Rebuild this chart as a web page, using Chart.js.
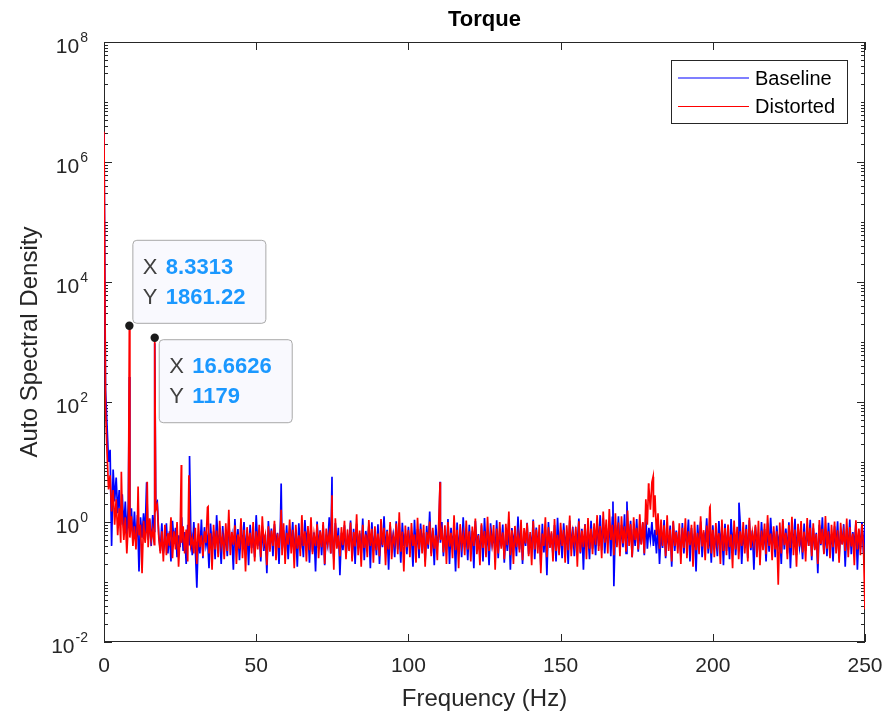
<!DOCTYPE html>
<html>
<head>
<meta charset="utf-8">
<title>Torque</title>
<script src="https://cdn.jsdelivr.net/npm/chart.js@4.4.1/dist/chart.umd.min.js"></script>
<style>
  html, body { margin: 0; padding: 0; background: #fff; }
  #wrap { width: 883px; height: 715px; }
</style>
</head>
<body>
<div id="wrap"><canvas id="asdChart" width="883" height="715"></canvas></div>
<script>
const freqStep = 0.5; // Hz between spectrum bins

// Baseline ASD, one row = 10 Hz (20 bins)
const baselineAsd = [
  3000000, 160, 40, 10, 16, 0.4, 7.5, 2.2, 5.5, 1.4, 3.4, 0.9, 2.9, 0.8, 2.2, 0.6, 2.0, 0.7, 1.7, 0.5,
  1.5, 0.45, 1.3, 0.15, 1.2, 0.55, 1.4, 0.6, 4.6, 0.5, 1.1, 0.4, 1.3, 0.7, 2.0, 2.2, 0.6, 0.33, 0.95, 0.3,
  0.5, 0.95, 0.3, 0.7, 0.22, 1.05, 0.45, 0.8, 0.26, 0.6, 0.38, 1.2, 0.33, 0.68, 0.2, 0.9, 0.42, 0.75, 0.28, 1.0,
  0.36, 0.08, 0.62, 0.3, 1.1, 0.25, 0.82, 0.4, 0.55, 0.17, 0.94, 0.35, 0.7, 0.24, 1.3, 0.43, 0.6, 0.2, 0.86, 0.32,
  0.66, 0.27, 0.98, 0.4, 0.58, 0.16, 1.12, 0.34, 0.76, 0.23, 0.64, 0.45, 1.0, 0.29, 0.72, 0.19, 0.9, 0.37, 0.6, 0.26,
  1.3, 0.4, 0.7, 0.22, 0.85, 0.33, 0.62, 0.14, 1.04, 0.38, 0.78, 0.27, 0.92, 0.43, 0.66, 0.2, 1.15, 0.35, 0.73, 0.3,
  0.88, 0.24, 0.64, 0.41, 1.0, 0.29, 0.7, 0.18, 0.95, 0.36, 0.6, 0.26, 1.08, 0.44, 0.76, 0.21, 0.84, 0.32, 0.67, 0.15,
  1.02, 0.37, 0.73, 0.28, 0.9, 0.19, 0.62, 0.42, 1.2, 0.3, 0.69, 0.24, 0.96, 0.39, 0.8, 0.13, 0.66, 0.34, 0.88, 0.27,
  0.6, 0.42, 1.06, 0.25, 0.77, 0.2, 0.93, 0.36, 0.65, 0.3, 1.14, 0.23, 0.71, 0.4, 0.87, 0.17, 0.99, 0.33, 0.63, 0.28,
  0.92, 0.2, 0.68, 0.38, 1.25, 0.3, 0.74, 0.16, 0.89, 0.43, 0.61, 0.26, 1.03, 0.35, 0.7, 0.21, 0.97, 0.4, 0.64, 0.29,
  0.83, 0.37, 0.6, 0.18, 1.09, 0.32, 0.76, 0.25, 0.94, 0.41, 0.66, 0.22, 0.86, 0.36, 1.5, 0.3, 0.72, 0.19, 0.9, 0.4,
  0.62, 0.45, 1.0, 0.27, 0.7, 0.35, 1.12, 0.2, 0.8, 0.43, 0.65, 0.15, 0.98, 0.31, 0.74, 0.26, 1.2, 0.38, 0.67, 0.23,
  0.9, 0.34, 0.71, 0.17, 1.04, 0.4, 0.63, 0.28, 0.88, 0.22, 1.16, 0.36, 0.69, 0.19, 0.95, 0.42, 0.6, 0.3, 1.07, 0.25,
  0.73, 0.39, 0.91, 0.21, 0.64, 0.33, 1.01, 0.16, 0.79, 0.44, 0.68, 0.27, 1.23, 0.35, 0.86, 0.2, 0.7, 0.4, 0.97, 0.29,
  0.62, 0.36, 1.1, 0.24, 0.81, 0.42, 0.67, 0.19, 0.93, 0.31, 0.74, 0.13, 1.0, 0.38, 0.65, 0.28, 0.89, 0.22, 1.18, 0.34,
  0.7, 0.25, 0.95, 0.41, 0.6, 0.2, 1.06, 0.35, 0.83, 0.27, 0.66, 0.44, 1.14, 0.3, 0.77, 0.16, 0.92, 0.39, 0.63, 0.24,
  1.05, 0.36, 0.72, 0.28, 0.98, 0.4, 1.3, 0.34, 1.15, 0.3, 0.8, 0.45, 0.94, 0.27, 1.2, 0.085, 0.88, 0.41, 1.25, 0.33,
  0.9, 0.38, 1.35, 0.3, 0.85, 0.47, 1.05, 0.26, 0.76, 0.4, 1.12, 0.32, 0.7, 0.43, 0.98, 0.28, 1.2, 0.36, 0.8, 0.5,
  1.0, 0.4, 0.74, 0.3, 0.92, 0.2, 0.68, 0.37, 1.08, 0.25, 0.62, 0.43, 0.87, 0.18, 1.0, 0.33, 0.72, 0.41, 0.6, 0.27,
  0.96, 0.3, 0.7, 0.44, 1.1, 0.22, 0.79, 0.35, 0.64, 0.15, 0.9, 0.39, 1.02, 0.26, 0.67, 0.42, 1.15, 0.3, 0.73, 0.21,
  0.88, 0.36, 0.62, 0.27, 1.04, 0.41, 0.75, 0.19, 0.93, 0.33, 0.68, 0.24, 1.12, 0.38, 0.8, 0.28, 0.7, 0.45, 0.97, 0.2,
  0.65, 0.4, 0.9, 0.25, 1.07, 0.34, 0.72, 0.16, 0.84, 0.43, 0.61, 0.29, 1.0, 0.37, 0.76, 0.22, 0.95, 0.32, 1.18, 0.39,
  0.7, 0.26, 0.87, 0.42, 0.63, 0.2, 1.05, 0.35, 0.78, 0.3, 0.99, 0.17, 0.69, 0.44, 1.13, 0.28, 0.82, 0.38, 0.6, 0.24,
  0.94, 0.33, 0.71, 0.4, 1.09, 0.23, 0.8, 0.36, 0.66, 0.14, 0.9, 0.41, 1.2, 0.3, 0.74, 0.27, 0.97, 0.39, 0.63, 0.22,
  0.85, 0.37, 1.03, 0.25, 0.7, 0.43, 0.92, 0.18, 0.77, 0.34, 1.1, 0.29, 0.68, 0.4, 0.96, 0.16, 0.73, 0.36, 1.0, 0.3,
  0.9
];

// Distorted ASD, same bins
const distortedAsd = [
  3200000, 80, 14, 3.5, 6, 1.5, 3.4, 0.9, 2.4, 0.6, 1.7, 0.45, 1.4, 0.5, 1.2, 0.3, 0.95, 0.55, 1.25, 0.4,
  0.85, 0.35, 1.1, 0.6, 0.9, 0.14, 1.05, 0.45, 0.8, 0.38, 1.15, 0.5, 0.75, 0.42, 1.6, 1.9, 0.55, 0.3, 0.7, 0.22,
  0.9, 0.28, 0.65, 0.4, 1.2, 0.25, 0.7, 0.35, 1.0, 0.18, 0.6, 0.45, 0.85, 0.3, 0.75, 0.22, 1.1, 0.4, 0.55, 0.3,
  0.8, 0.2, 0.95, 0.38, 0.6, 0.27, 0.7, 0.45, 1.75, 0.3, 0.65, 0.16, 0.9, 0.35, 0.72, 0.26, 1.05, 0.4, 0.58, 0.24,
  0.95, 0.33, 1.6, 0.28, 0.68, 0.42, 0.88, 0.2, 0.62, 0.36, 1.15, 0.25, 0.74, 0.15, 0.82, 0.4, 0.66, 0.3, 1.0, 0.22,
  0.7, 0.35, 0.9, 0.26, 1.25, 0.44, 0.6, 0.19, 0.85, 0.32, 0.72, 0.4, 1.05, 0.23, 0.64, 0.37, 0.78, 0.28, 0.95, 0.2,
  0.66, 0.42, 1.1, 0.3, 0.74, 0.17, 0.9, 0.36, 0.6, 0.27, 1.3, 0.4, 0.7, 0.22, 0.86, 0.34, 1.2, 0.29, 0.63, 0.4,
  0.92, 0.25, 0.7, 0.38, 1.0, 0.2, 0.78, 0.43, 0.65, 0.3, 0.88, 0.16, 1.15, 0.36, 0.6, 0.27, 0.82, 0.41, 1.05, 0.24,
  0.75, 0.33, 0.98, 0.22, 0.68, 0.39, 1.35, 0.28, 0.72, 0.18, 0.9, 0.37, 0.62, 0.26, 1.08, 0.4, 0.77, 0.21, 0.85, 0.34,
  0.64, 0.27, 1.12, 0.41, 0.8, 0.19, 0.7, 0.35, 1.0, 0.24, 0.58, 0.43, 0.94, 0.29, 1.45, 0.32, 0.69, 0.15, 0.87, 0.38,
  0.73, 0.26, 0.96, 0.4, 0.62, 0.21, 1.18, 0.35, 0.76, 0.3, 0.9, 0.18, 0.68, 0.42, 1.02, 0.27, 0.8, 0.36, 0.6, 0.23,
  1.1, 0.5, 0.72, 0.31, 0.88, 0.2, 1.0, 0.39, 0.66, 0.25, 1.3, 0.34, 0.74, 0.17, 0.92, 0.41, 0.63, 0.28, 1.06, 0.35,
  0.7, 0.22, 0.84, 0.4, 1.14, 0.29, 0.6, 0.19, 0.95, 0.37, 0.71, 0.26, 1.22, 0.33, 0.66, 0.42, 0.89, 0.16, 0.78, 0.3,
  1.0, 0.36, 0.67, 0.24, 0.93, 0.41, 1.5, 0.28, 0.73, 0.2, 0.86, 0.38, 0.62, 0.31, 1.09, 0.23, 0.79, 0.44, 0.95, 0.27,
  0.68, 0.19, 1.04, 0.35, 0.75, 0.3, 0.9, 0.14, 0.64, 0.4, 1.2, 0.26, 0.82, 0.37, 0.7, 0.22, 1.12, 0.33, 0.61, 0.28,
  0.97, 0.4, 0.74, 0.21, 0.88, 0.34, 1.28, 0.27, 0.66, 0.43, 0.83, 0.18, 1.03, 0.31, 0.72, 0.38, 0.91, 0.24, 1.16, 0.36,
  0.78, 0.29, 0.95, 0.42, 1.3, 0.33, 0.86, 0.25, 1.5, 0.45, 1.1, 0.3, 1.65, 0.5, 0.9, 0.28, 1.4, 0.38, 0.98, 0.27,
  1.25, 0.44, 0.85, 0.32, 1.55, 0.4, 0.92, 0.26, 1.2, 0.5, 0.8, 0.35, 1.35, 0.42, 1.0, 0.3, 2.4, 0.9, 3.8, 1.6,
  4.6, 1.2, 2.8, 0.6, 1.4, 0.36, 1.1, 0.4, 0.88, 0.27, 1.3, 0.33, 0.75, 0.22, 1.05, 0.4, 0.68, 0.3, 0.95, 0.2,
  0.8, 0.37, 1.15, 0.25, 0.7, 0.41, 0.9, 0.18, 1.02, 0.34, 0.66, 0.29, 1.24, 0.39, 0.73, 0.23, 0.87, 0.36, 1.75, 0.3,
  0.74, 0.26, 0.96, 0.42, 0.65, 0.2, 1.1, 0.33, 0.79, 0.28, 0.91, 0.38, 0.62, 0.17, 1.06, 0.35, 0.83, 0.24, 0.7, 0.4,
  1.0, 0.3, 0.76, 0.22, 1.18, 0.37, 0.67, 0.43, 0.9, 0.26, 1.05, 0.19, 0.72, 0.34, 0.94, 0.29, 1.3, 0.4, 0.64, 0.23,
  0.85, 0.35, 0.7, 0.09, 0.98, 0.3, 1.12, 0.41, 0.66, 0.24, 0.89, 0.37, 1.22, 0.28, 0.75, 0.18, 0.93, 0.39, 1.04, 0.31,
  0.69, 0.22, 1.16, 0.4, 0.8, 0.27, 0.95, 0.34, 0.63, 0.2, 1.08, 0.43, 0.77, 0.29, 1.26, 0.36, 0.7, 0.25, 0.9, 0.38,
  1.02, 0.3, 0.73, 0.21, 0.97, 0.42, 0.68, 0.33, 1.14, 0.26, 0.82, 0.39, 0.64, 0.19, 1.07, 0.35, 0.78, 0.28, 0.92, 0.4,
  0.035
];

// narrow tonal lines that fall between bins: [Hz, ASD]
const baselineTones = [
  [8.3313, 260], [16.6626, 950], [28.1, 12.6], [58.2, 4.4], [74.9, 5.7],
  [110.4, 4.7], [167.2, 2.2], [171.8, 2.2], [208.6, 2.1]
];
const distortedTones = [
  [5.7, 6.9], [8.3313, 1861.22], [11.2, 3.9], [14.2, 4.7], [16.6626, 1179],
  [25.4, 8.9], [27.9, 6.0], [34.2, 1.8], [58.2, 1.6], [74.9, 2.8],
  [110.4, 4.6], [178.9, 4.4], [180.4, 5.7], [199.1, 1.8]
];

const xTicks = [0, 50, 100, 150, 200, 250];
const yLabelExps = [-2, 0, 2, 4, 6, 8];

// data tips
const tipFreqs = [8.3313, 16.6626];
const tipValues = [1861.22, 1179];

const FONT = "'Liberation Sans', Arial, Helvetica, sans-serif";
const AXIS_COLOR = '#262626';

function buildSeries(asd, tones) {
  const pts = asd.map((v, i) => ({ x: i * freqStep, y: v }));
  tones.forEach((t) => pts.push({ x: t[0], y: t[1] }));
  pts.sort((a, b) => a.x - b.x);
  return pts;
}

// box, inward ticks and y labels in MATLAB style
const framePlugin = {
  id: 'matlabFrame',
  beforeDatasetsDraw(chart) {
    const { ctx, chartArea: a, scales } = chart;
    const x = scales.x;
    const y = scales.y;
    ctx.save();
    ctx.strokeStyle = AXIS_COLOR;
    ctx.lineWidth = 1;
    ctx.beginPath();
    xTicks.forEach((v) => {
      const px = Math.round(x.getPixelForValue(v)) + 0.5;
      ctx.moveTo(px, a.bottom);
      ctx.lineTo(px, a.bottom - 8);
      ctx.moveTo(px, a.top);
      ctx.lineTo(px, a.top + 8);
    });
    for (let d = -2; d <= 8; d++) {
      for (let m = 1; m <= 9; m++) {
        if (d === 8 && m > 1) break;
        const v = m * Math.pow(10, d);
        const py = Math.round(y.getPixelForValue(v)) + 0.5;
        const len = (m === 1 && d % 2 === 0) ? 8 : 4;
        ctx.moveTo(a.left, py);
        ctx.lineTo(a.left + len, py);
        ctx.moveTo(a.right, py);
        ctx.lineTo(a.right - len, py);
      }
    }
    ctx.stroke();
    ctx.strokeRect(a.left + 0.5, a.top + 0.5, a.right - a.left - 1, a.bottom - a.top - 1);

    ctx.fillStyle = AXIS_COLOR;
    ctx.textAlign = 'right';
    ctx.textBaseline = 'alphabetic';
    const labelRight = a.left - 16;
    yLabelExps.forEach((e) => {
      const py = y.getPixelForValue(Math.pow(10, e));
      const expText = String(e);
      ctx.font = '14px ' + FONT;
      const expW = ctx.measureText(expText).width;
      ctx.fillText(expText, labelRight, py);
      ctx.font = '21px ' + FONT;
      ctx.fillText('10', labelRight - expW - 1, py + 11);
    });
    ctx.restore();
  }
};

const legendPlugin = {
  id: 'boxLegend',
  afterDatasetsDraw(chart) {
    const { ctx } = chart;
    const sets = chart.data.datasets;
    const bx = 671, by = 60, bw = 176, bh = 63;
    ctx.save();
    ctx.fillStyle = '#fff';
    ctx.fillRect(bx, by, bw, bh);
    ctx.strokeStyle = AXIS_COLOR;
    ctx.lineWidth = 1;
    ctx.strokeRect(bx + 0.5, by + 0.5, bw, bh);
    ctx.font = '20px ' + FONT;
    ctx.textAlign = 'left';
    ctx.textBaseline = 'middle';
    sets.forEach((ds, i) => {
      const ly = by + 18 + i * 28.5;
      ctx.strokeStyle = ds.borderColor;
      ctx.lineWidth = 1.2;
      ctx.beginPath();
      ctx.moveTo(bx + 7, ly);
      ctx.lineTo(bx + 78, ly);
      ctx.stroke();
      ctx.fillStyle = '#000';
      ctx.fillText(ds.label, bx + 84, ly + 1);
    });
    ctx.restore();
  }
};

const dataTipPlugin = {
  id: 'dataTips',
  afterDatasetsDraw(chart) {
    const { ctx, scales } = chart;
    ctx.save();
    tipFreqs.forEach((f, i) => {
      const px = scales.x.getPixelForValue(f);
      const py = scales.y.getPixelForValue(tipValues[i]);
      const w = 133, h = 83;
      const left = i === 0 ? px + 3 : px + 4;
      const top = i === 0 ? py - 3 - h : py + 1.5;

      ctx.beginPath();
      ctx.roundRect(left + 0.5, top + 0.5, w, h, 4);
      ctx.fillStyle = '#f9f9fe';
      ctx.fill();
      ctx.strokeStyle = '#a9a9a9';
      ctx.lineWidth = 1;
      ctx.stroke();

      ctx.textAlign = 'left';
      ctx.textBaseline = 'middle';
      const rows = [['X', String(f)], ['Y', String(tipValues[i])]];
      rows.forEach((r, k) => {
        const ty = top + 28 + k * 30;
        ctx.font = '22px ' + FONT;
        ctx.fillStyle = '#404040';
        ctx.fillText(r[0], left + 10.5, ty);
        ctx.font = 'bold 22px ' + FONT;
        ctx.fillStyle = '#1a98ff';
        ctx.fillText(r[1], left + 33.5, ty);
      });

      ctx.beginPath();
      ctx.arc(px, py, 4.2, 0, Math.PI * 2);
      ctx.fillStyle = '#1a1a1a';
      ctx.fill();
    });
    ctx.restore();
  }
};

const ctx = document.getElementById('asdChart').getContext('2d');
new Chart(ctx, {
  type: 'line',
  data: {
    datasets: [
      {
        label: 'Baseline',
        data: buildSeries(baselineAsd, baselineTones),
        borderColor: '#0000ff',
        borderWidth: 1.7,
        pointRadius: 0,
        tension: 0,
        order: 1
      },
      {
        label: 'Distorted',
        data: buildSeries(distortedAsd, distortedTones),
        borderColor: '#ff0000',
        borderWidth: 1.7,
        pointRadius: 0,
        tension: 0,
        order: 0
      }
    ]
  },
  options: {
    responsive: false,
    animation: false,
    events: [],
    layout: { padding: { left: 0, right: 18, top: 0, bottom: 0 } },
    plugins: {
      legend: { display: false },
      tooltip: { enabled: false },
      title: {
        display: true,
        fullSize: false,
        text: 'Torque',
        color: '#000',
        font: { family: FONT, size: 22, weight: 'bold' },
        padding: { top: 7, bottom: 8.6 }
      }
    },
    scales: {
      x: {
        type: 'linear',
        min: 0,
        max: 250,
        afterFit: (scale) => {
          scale.height = 73;
          scale.paddingLeft = 0;
          scale.paddingRight = 0;
        },
        afterBuildTicks: (scale) => { scale.ticks = xTicks.map((v) => ({ value: v })); },
        grid: { display: false },
        border: { display: false },
        ticks: {
          color: AXIS_COLOR,
          font: { family: FONT, size: 21 },
          padding: 4,
          maxRotation: 0
        },
        title: {
          display: true,
          text: 'Frequency (Hz)',
          color: AXIS_COLOR,
          font: { family: FONT, size: 24 },
          padding: { top: 0, bottom: 1 }
        }
      },
      y: {
        type: 'logarithmic',
        min: 0.01,
        max: 1e8,
        afterFit: (scale) => {
          scale.width = 104;
          scale.paddingTop = 0;
          scale.paddingBottom = 0;
        },
        grid: { display: false },
        border: { display: false },
        ticks: { display: false },
        title: {
          display: true,
          text: 'Auto Spectral Density',
          color: AXIS_COLOR,
          font: { family: FONT, size: 24 },
          padding: { top: 16, bottom: 0 }
        }
      }
    }
  },
  plugins: [framePlugin, legendPlugin, dataTipPlugin]
});
</script>
</body>
</html>
